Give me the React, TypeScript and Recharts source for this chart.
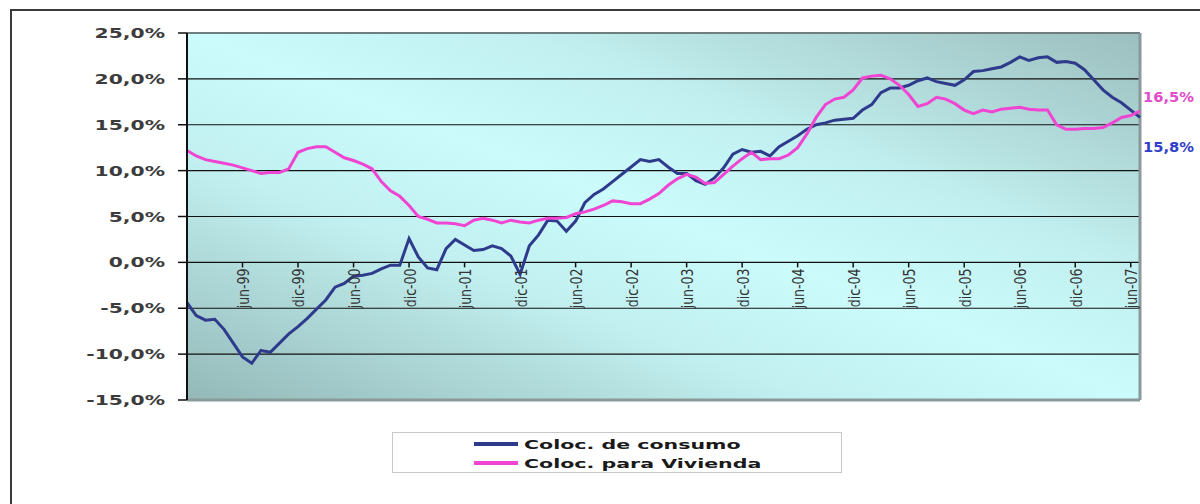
import React from "react"
import { LineChart, Line, XAxis, YAxis, CartesianGrid, ReferenceLine, ReferenceDot, Legend } from "recharts"

// meses dic-98 .. jul-07
const MESES = [
  "dic-98",
  "ene-99", "feb-99", "mar-99", "abr-99", "may-99", "jun-99", "jul-99", "ago-99", "sep-99", "oct-99", "nov-99", "dic-99",
  "ene-00", "feb-00", "mar-00", "abr-00", "may-00", "jun-00", "jul-00", "ago-00", "sep-00", "oct-00", "nov-00", "dic-00",
  "ene-01", "feb-01", "mar-01", "abr-01", "may-01", "jun-01", "jul-01", "ago-01", "sep-01", "oct-01", "nov-01", "dic-01",
  "ene-02", "feb-02", "mar-02", "abr-02", "may-02", "jun-02", "jul-02", "ago-02", "sep-02", "oct-02", "nov-02", "dic-02",
  "ene-03", "feb-03", "mar-03", "abr-03", "may-03", "jun-03", "jul-03", "ago-03", "sep-03", "oct-03", "nov-03", "dic-03",
  "ene-04", "feb-04", "mar-04", "abr-04", "may-04", "jun-04", "jul-04", "ago-04", "sep-04", "oct-04", "nov-04", "dic-04",
  "ene-05", "feb-05", "mar-05", "abr-05", "may-05", "jun-05", "jul-05", "ago-05", "sep-05", "oct-05", "nov-05", "dic-05",
  "ene-06", "feb-06", "mar-06", "abr-06", "may-06", "jun-06", "jul-06", "ago-06", "sep-06", "oct-06", "nov-06", "dic-06",
  "ene-07", "feb-07", "mar-07", "abr-07", "may-07", "jun-07", "jul-07",
]

const TICK_LABELS = [
  "dic-98", "jun-99", "dic-99", "jun-00", "dic-00", "jun-01", "dic-01", "jun-02", "dic-02",
  "jun-03", "dic-03", "jun-04", "dic-04", "jun-05", "dic-05", "jun-06", "dic-06", "jun-07",
]

const CONSUMO = [
  -4.4, -5.8, -6.3, -6.2, -7.3, -8.8, -10.3, -11.0, -9.6, -9.8,
  -8.8, -7.8, -7.0, -6.1, -5.1, -4.1, -2.7, -2.3, -1.5, -1.4,
  -1.2, -0.7, -0.3, -0.3, 2.6, 0.6, -0.6, -0.8, 1.5, 2.5,
  1.9, 1.3, 1.4, 1.8, 1.5, 0.7, -1.3, 1.8, 3.0, 4.6,
  4.5, 3.4, 4.5, 6.5, 7.4, 8.0, 8.8, 9.6, 10.4, 11.2,
  11.0, 11.2, 10.4, 9.7, 9.7, 8.9, 8.5, 9.2, 10.3, 11.8,
  12.3, 12.0, 12.1, 11.6, 12.6, 13.2, 13.8, 14.5, 15.0, 15.2,
  15.5, 15.6, 15.7, 16.6, 17.2, 18.5, 19.0, 19.0, 19.3, 19.8,
  20.1, 19.7, 19.5, 19.3, 19.9, 20.8, 20.9, 21.1, 21.3, 21.8,
  22.4, 22.0, 22.3, 22.4, 21.8, 21.9, 21.7, 21.0, 19.9, 18.8,
  18.0, 17.4, 16.6, 15.8,
]

const VIVIENDA = [
  12.2, 11.6, 11.2, 11.0, 10.8, 10.6, 10.3, 10.0, 9.7, 9.8,
  9.8, 10.2, 12.0, 12.4, 12.6, 12.6, 12.0, 11.4, 11.1, 10.7,
  10.2, 8.8, 7.8, 7.2, 6.2, 5.0, 4.7, 4.3, 4.3, 4.2,
  4.0, 4.6, 4.8, 4.6, 4.3, 4.6, 4.4, 4.3, 4.6, 4.8,
  4.8, 4.9, 5.3, 5.5, 5.8, 6.2, 6.7, 6.6, 6.4, 6.4,
  6.9, 7.5, 8.4, 9.1, 9.6, 9.3, 8.6, 8.7, 9.6, 10.5,
  11.3, 12.0, 11.2, 11.3, 11.3, 11.7, 12.5, 14.0, 15.8, 17.2,
  17.8, 18.0, 18.8, 20.1, 20.3, 20.4, 20.0, 19.3, 18.3, 17.0,
  17.3, 18.0, 17.8, 17.3, 16.6, 16.2, 16.6, 16.4, 16.7, 16.8,
  16.9, 16.7, 16.6, 16.6, 15.0, 14.5, 14.5, 14.6, 14.6, 14.7,
  15.2, 15.8, 16.0, 16.5,
]

const Y_TICKS = [-15, -10, -5, 0, 5, 10, 15, 20, 25]

const BLUE = "#2e3b8c"
const PINK = "#f045d2"
const FONT = "'DejaVu Sans', Verdana, sans-serif"

const SERIES = [
  { key: "consumo", name: "Coloc. de consumo", color: BLUE },
  { key: "vivienda", name: "Coloc. para Vivienda", color: PINK },
]

const data = MESES.map((mes, i) => ({ mes, consumo: CONSUMO[i], vivienda: VIVIENDA[i] }))
const last = MESES.length - 1

const fmt = (v: number) => v.toFixed(1).replace(".", ",") + "%"

function YTick({ x, y, payload }: any) {
  return (
    <text
      transform={`translate(${x},${y}) scale(1.45,1)`}
      textAnchor="end"
      dy="0.36em"
      fontFamily={FONT}
      fontWeight="bold"
      fontSize={14}
      fill="#3c3c3c"
    >
      {fmt(payload.value)}
    </text>
  )
}

// tick + rotated label sitting on the 0% line
const xTickShape = (label: string) => (props: any) => {
  const { cx, cy } = props
  return (
    <g>
      <line x1={cx} y1={cy} x2={cx} y2={cy + 5} stroke="#111" strokeWidth={1.5} />
      <text
        transform={`translate(${cx + 1},${cy + 6}) rotate(-90) scale(1.05,1.3)`}
        textAnchor="end"
        dy="0.35em"
        fontFamily={FONT}
        fontSize={12}
        fill="#333"
      >
        {label}
      </text>
    </g>
  )
}

const endLabel = (color: string, shift: number, value: number) => (props: any) => {
  const { cx, cy } = props
  return (
    <text
      transform={`translate(${cx + 3},${cy + shift}) scale(1.05,1)`}
      dy="0.36em"
      fontFamily={FONT}
      fontWeight="bold"
      fontSize={14}
      fill={color}
    >
      {fmt(value)}
    </text>
  )
}

function LegendBox() {
  return (
    <div
      style={{
        width: 450,
        height: 41,
        border: "1px solid #c8c8c8",
        boxSizing: "border-box",
        background: "#fff",
        position: "relative",
      }}
    >
      {SERIES.map((s, i) => (
        <div
          key={s.key}
          style={{ position: "absolute", left: 81, top: 2 + i * 19, height: 18, display: "flex", alignItems: "center" }}
        >
          <svg width={44} height={6}>
            <line x1={0} y1={3} x2={44} y2={3} stroke={s.color} strokeWidth={4} />
          </svg>
          <span
            style={{
              marginLeft: 6,
              fontFamily: FONT,
              fontWeight: "bold",
              fontSize: 13,
              color: "#1a1a1a",
              display: "inline-block",
              transform: "scaleX(1.58)",
              transformOrigin: "left center",
              whiteSpace: "nowrap",
            }}
          >
            {s.name}
          </span>
        </div>
      ))}
    </div>
  )
}

export default function App() {
  return (
    <div
      style={{
        position: "fixed",
        left: 10,
        top: 9,
        width: 1200,
        height: 500,
        border: "2px solid #3a3a3a",
        background: "#fff",
      }}
    >
      <svg width={0} height={0} style={{ position: "absolute" }}>
        <defs>
          <linearGradient id="plotBg" x1="0" y1="1" x2="1" y2="0">
            <stop offset="0%" stopColor="#94b8b8" />
            <stop offset="33%" stopColor="#c2f0f0" />
            <stop offset="50%" stopColor="#cbfbfb" />
            <stop offset="67%" stopColor="#c2f0f0" />
            <stop offset="100%" stopColor="#9cbebe" />
          </linearGradient>
        </defs>
      </svg>
      <LineChart width={1188} height={493} data={data} margin={{ top: 22, right: 60, bottom: 104, left: 0 }}>
        <CartesianGrid horizontal vertical={false} stroke="#111" strokeWidth={1.2} fill="url(#plotBg)" fillOpacity={1} />
        <XAxis dataKey="mes" hide />
        <YAxis
          domain={[-15, 25]}
          ticks={Y_TICKS}
          interval={0}
          width={175}
          tickSize={9}
          tickMargin={13}
          axisLine={{ stroke: "#111", strokeWidth: 2 }}
          tickLine={{ stroke: "#111", strokeWidth: 1.5 }}
          tick={<YTick />}
        />
        <ReferenceLine y={25} stroke="#6f7f7f" strokeWidth={2} />
        <ReferenceLine y={-15} stroke="#8a9a9a" strokeWidth={3} />
        <ReferenceLine x={MESES[last]} stroke="#8a9a9a" strokeWidth={3} />
        {TICK_LABELS.map((t) => (
          <ReferenceDot key={t} x={t} y={0} r={0} shape={xTickShape(t)} />
        ))}
        <Line
          dataKey="consumo"
          name="Coloc. de consumo"
          type="linear"
          stroke={BLUE}
          strokeWidth={3}
          dot={false}
          isAnimationActive={false}
        />
        <Line
          dataKey="vivienda"
          name="Coloc. para Vivienda"
          type="linear"
          stroke={PINK}
          strokeWidth={3}
          dot={false}
          isAnimationActive={false}
        />
        <ReferenceDot x={MESES[last]} y={VIVIENDA[last]} r={0} shape={endLabel("#e24ccc", -14, VIVIENDA[last])} />
        <ReferenceDot x={MESES[last]} y={CONSUMO[last]} r={0} shape={endLabel("#3040c8", 30, CONSUMO[last])} />
        <Legend
          layout="vertical"
          align="center"
          verticalAlign="middle"
          content={() => <LegendBox />}
          wrapperStyle={{ left: 380, top: 421, width: 450, height: 41 }}
        />
      </LineChart>
    </div>
  )
}
